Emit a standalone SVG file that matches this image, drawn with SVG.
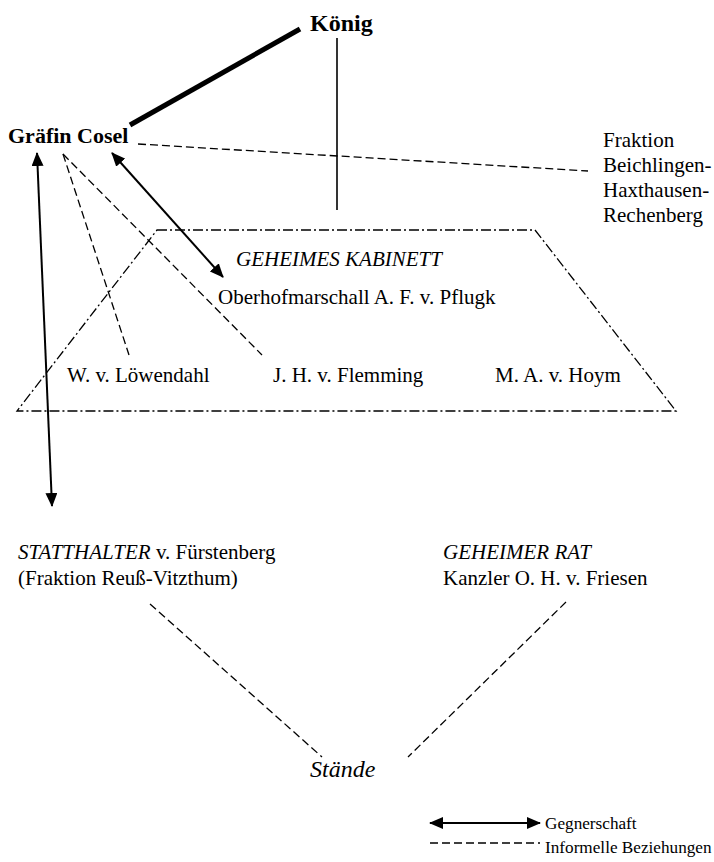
<svg xmlns="http://www.w3.org/2000/svg" width="714" height="862" viewBox="0 0 714 862">
<defs>
<marker id="ah" markerUnits="userSpaceOnUse" markerWidth="14" markerHeight="12" refX="13" refY="6" orient="auto-start-reverse" viewBox="0 0 14 12">
<path d="M0,0 L14,6 L0,12 z" fill="#000"/>
</marker>
<style>
text{font-family:"Liberation Serif","Times New Roman",serif;fill:#000}
.t{font-size:21px}
.b{font-weight:bold}
.i{font-style:italic}
.leg{font-size:17.2px}
.dash{fill:none;stroke:#000;stroke-width:1.3;stroke-dasharray:8 4}
.dd{fill:none;stroke:#000;stroke-width:1.3;stroke-dasharray:10 3 2 3}
.arr{fill:none;stroke:#000;stroke-width:2;marker-start:url(#ah);marker-end:url(#ah)}
.solid{fill:none;stroke:#000}
</style>
</defs>
<rect width="714" height="862" fill="#fff"/>

<g id="connectors">
<line class="solid" x1="130" y1="125" x2="300" y2="29" stroke-width="5"/>
<line class="solid" x1="337" y1="38" x2="337" y2="210" stroke-width="1.6"/>
<line class="dash" x1="138" y1="144" x2="588" y2="171"/>
<line class="dash" x1="63" y1="154" x2="129" y2="355"/>
<line class="dash" x1="63" y1="154" x2="262" y2="355"/>
<line class="arr" x1="112" y1="153" x2="223" y2="277"/>
<line class="arr" x1="37" y1="153" x2="52" y2="506"/>
<line class="dash" x1="150" y1="604" x2="322" y2="757"/>
<line class="dash" x1="566" y1="602" x2="408" y2="757"/>
</g>

<g id="kabinett">
<polygon class="dd" points="157,230 535,230 676,411 17,411"/>
<text class="t i" x="236" y="266">GEHEIMES KABINETT</text>
<text class="t" x="218" y="304">Oberhofmarschall A. F. v. Pflugk</text>
</g>
<g id="koenig"><text class="b" font-size="24" x="310" y="31">König</text></g>
<g id="cosel"><text class="b" font-size="22" x="8" y="143">Gräfin Cosel</text></g>
<g id="fraktion">
<text class="t" x="603" y="147">Fraktion</text>
<text class="t" x="603" y="172">Beichlingen-</text>
<text class="t" x="603" y="197">Haxthausen-</text>
<text class="t" x="603" y="222">Rechenberg</text>
</g>
<g id="loewendahl"><text class="t" x="67" y="382">W. v. Löwendahl</text></g>
<g id="flemming"><text class="t" x="273" y="382">J. H. v. Flemming</text></g>
<g id="hoym"><text class="t" x="495" y="382">M. A. v. Hoym</text></g>
<g id="statthalter">
<text class="t" x="18" y="559"><tspan class="i">STATTHALTER</tspan> v. Fürstenberg</text>
<text class="t" x="18" y="585">(Fraktion Reuß-Vitzthum)</text>
</g>
<g id="rat">
<text class="t i" x="443" y="559">GEHEIMER RAT</text>
<text class="t" x="443" y="585">Kanzler O. H. v. Friesen</text>
</g>
<g id="staende"><text class="i" font-size="24" x="310" y="777">Stände</text></g>

<g id="legend">
<line class="arr" x1="430" y1="823" x2="540" y2="823"/>
<text class="leg" x="545" y="829">Gegnerschaft</text>
<line class="dash" x1="430" y1="843" x2="540" y2="843"/>
<text class="leg" x="545" y="853">Informelle Beziehungen</text>
</g>
</svg>
